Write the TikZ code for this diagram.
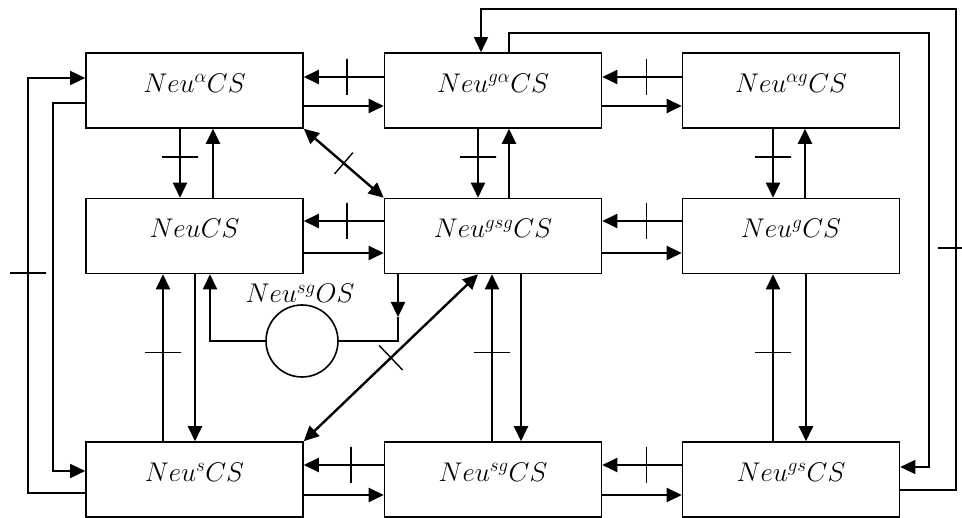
\RequirePackage{fix-cm}
\documentclass[tikz,border=0pt]{standalone}
\usepackage{amsmath}
\usetikzlibrary{arrows.meta,calc}
\newcommand{\sg}{g}
\begin{document}
\begin{tikzpicture}[x=1pt,y=-1pt,
  box/.style={draw, line width=1.6pt, minimum width=217pt, minimum height=75pt, inner sep=0pt,
    text height=20pt, text depth=16pt, font=\fontsize{27}{30}\selectfont},
  lbl/.style={inner sep=0pt, text height=20pt, text depth=16pt, font=\fontsize{27}{30}\selectfont},
  tip/.style={-{Triangle[length=15pt,width=14pt]}},
  arr/.style={line width=2.4pt, tip},
  darr/.style={line width=2.4pt, {Triangle[length=15pt,width=14pt]}-{Triangle[length=15pt,width=14pt]}},
  wire/.style={line width=1.6pt},
  warr/.style={line width=1.6pt, tip},
  tickmark/.style={draw, line width=1.4pt, minimum width=0pt, minimum height=36pt, inner sep=0pt, sloped},
]
\useasboundingbox (0,0) rectangle (962,518);

% boxes
\node[box] (A1) at (194.5,90.5) {$Neu^{\alpha}CS$};
\node[box] (A2) at (493,90.5) {$Neu^{\sg\alpha}CS$};
\node[box] (A3) at (791,90.5) {$Neu^{\alpha\sg}CS$};
\node[box] (B1) at (194.5,236) {$NeuCS$};
\node[box] (B2) at (493,236) {$Neu^{\sg s\sg}CS$};
\node[box] (B3) at (791,236) {$Neu^{\sg}CS$};
\node[box] (C1) at (194.5,479.5) {$Neu^{s}CS$};
\node[box] (C2) at (493,479.5) {$Neu^{s\sg}CS$};
\node[box] (C3) at (791,479.5) {$Neu^{\sg s}CS$};

% OS circle
\node[circle, draw, line width=1.6pt, minimum size=72pt, inner sep=0pt] (OS) at (302,341) {};
\node[lbl] (OSl) at (300,301) {$Neu^{s\sg}OS$};

% horizontal arrows row 1
\draw[arr] (A2.west |- 0,77) -- node[tickmark,pos=0.46]{} (A1.east |- 0,77);
\draw[arr] (A1.east |- 0,106) -- (A2.west |- 0,106);
\draw[arr] (A3.west |- 0,77) -- node[tickmark,pos=0.44]{} (A2.east |- 0,77);
\draw[arr] (A2.east |- 0,106) -- (A3.west |- 0,106);
% row 2
\draw[arr] (B2.west |- 0,221) -- node[tickmark,pos=0.46]{} (B1.east |- 0,221);
\draw[arr] (B1.east |- 0,253) -- (B2.west |- 0,253);
\draw[arr] (B3.west |- 0,221) -- node[tickmark,pos=0.44]{} (B2.east |- 0,221);
\draw[arr] (B2.east |- 0,253) -- (B3.west |- 0,253);
% row 3
\draw[arr] (C2.west |- 0,465) -- node[tickmark,pos=0.41]{} (C1.east |- 0,465);
\draw[arr] (C1.east |- 0,495) -- (C2.west |- 0,495);
\draw[arr] (C3.west |- 0,465) -- node[tickmark,pos=0.44]{} (C2.east |- 0,465);
\draw[arr] (C2.east |- 0,495) -- (C3.west |- 0,495);

% vertical arrows top half
\draw[arr] (180,0 |- A1.south) -- node[tickmark,pos=0.41]{} (180,0 |- B1.north);
\draw[arr] (213,0 |- B1.north) -- (213,0 |- A1.south);
\draw[arr] (478,0 |- A2.south) -- node[tickmark,pos=0.41]{} (478,0 |- B2.north);
\draw[arr] (509,0 |- B2.north) -- (509,0 |- A2.south);
\draw[arr] (773,0 |- A3.south) -- node[tickmark,pos=0.41]{} (773,0 |- B3.north);
\draw[arr] (805,0 |- B3.north) -- (805,0 |- A3.south);

% vertical arrows bottom half
\draw[arr] (163,0 |- C1.north) -- node[tickmark,pos=0.53]{} (163,0 |- B1.south);
\draw[arr] (195,0 |- B1.south) -- (195,0 |- C1.north);
\draw[arr] (492,0 |- C2.north) -- node[tickmark,pos=0.53]{} (492,0 |- B2.south);
\draw[arr] (521,0 |- B2.south) -- (521,0 |- C2.north);
\draw[arr] (773,0 |- C3.north) -- node[tickmark,pos=0.53]{} (773,0 |- B3.south);
\draw[arr] (806,0 |- B3.south) -- (806,0 |- C3.north);

% diagonals
\draw[darr] (A1.south east) -- node[tickmark, minimum height=28pt]{} (B2.north west);
\draw[darr] (C1.north east) -- node[tickmark, minimum height=34pt]{} (478,0 |- B2.south);

% OS loop
\coordinate (osr) at (398,317);
\draw[arr] (398,0 |- B2.south) -- (osr);
\draw[wire, line width=2pt] (osr) -- (398,341) -- (OS.east);
\draw[arr] (OS.west) -- (210,341) -- (210,0 |- B1.south);

% left outer lines
\draw[warr] (C1.west |- 0,493) -- (28,493) -- node[tickmark,pos=0.53]{} (28,78) -- (A1.west |- 0,78);
\draw[warr] (A1.west |- 0,103) -- (53,103) -- (53,471) -- (C1.west |- 0,471);

% right outer lines
\draw[warr] (C3.east |- 0,490) -- (956,490) -- node[tickmark,pos=0.503]{} (956,9) -- (481,9) -- (481,0 |- A2.north);
\draw[warr] (509,0 |- A2.north) -- (509,33) -- (929,33) -- (929,467) -- (C3.east |- 0,467);
\end{tikzpicture}
\end{document}
